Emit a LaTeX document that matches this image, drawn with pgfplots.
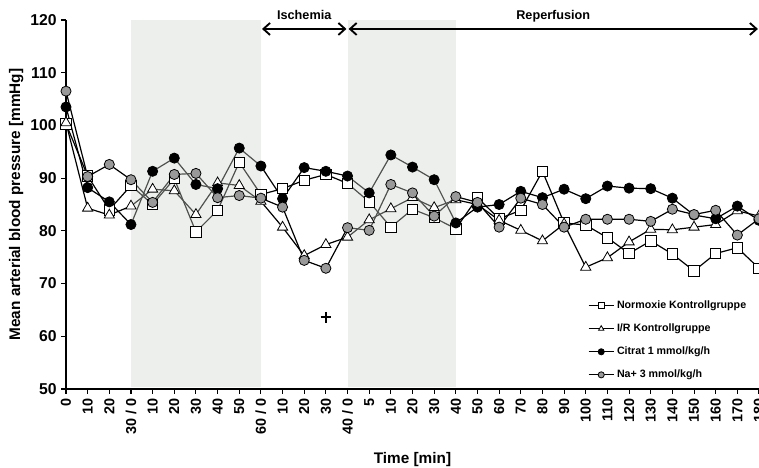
\documentclass[border=0pt]{standalone}
\usepackage{fontspec}
\setmainfont{Liberation Sans}
\usepackage{pgfplots}
\usepackage{pgfplotstable}
\pgfplotsset{compat=1.18}
\usetikzlibrary{arrows.meta}

% index: 0..32 along the time axis (see xticklabels)
\pgfplotstableread{
x  norm  ir    cit   na
0  100.3 100.5 103.5 106.5
1  90.4  84.3  88.2  90.3
2  84.0  83.0  85.5  92.6
3  88.6  84.7  81.2  89.7
4  85.0  87.9  91.3  85.4
5  89.9  87.6  93.8  90.7
6  79.8  83.1  88.8  90.9
7  83.9  89.1  88.0  86.3
8  93.0  88.6  95.7  86.7
9  86.9  85.6  92.3  86.2
10 88.0  80.7  86.1  84.5
11 89.6  75.3  92.0  74.4
12 90.7  77.4  91.3  72.9
13 89.0  78.8  90.4  80.6
14 85.5  82.1  87.2  80.1
15 80.7  84.2  94.4  88.8
16 84.1  86.3  92.1  87.2
17 82.5  84.4  89.7  82.8
18 80.4  85.9  81.5  86.5
19 86.3  85.0  84.5  85.4
20 82.3  82.0  85.0  80.7
21 83.9  80.1  87.5  86.2
22 91.3  78.1  86.3  85.0
23 81.5  81.3  87.9  80.7
24 81.1  73.1  86.1  82.2
25 78.7  74.9  88.5  82.2
26 75.7  77.9  88.1  82.2
27 78.1  80.3  88.0  81.8
28 75.6  80.2  86.2  84.1
29 72.4  80.7  83.0  83.1
30 75.7  81.2  82.3  83.9
31 76.8  83.8  84.7  79.2
32 72.9  82.8  82.0  82.3
}\mapdata

\definecolor{phasecol}{rgb}{0.82,0.84,0.82}
\definecolor{nagray}{gray}{0.6}

\begin{document}
\begin{tikzpicture}
\begin{axis}[name=ax,
  width=519.75pt, height=276.75pt, scale only axis,
  xmin=0, xmax=32, ymin=50, ymax=120,
  ytick={50,60,...,120},
  xtick={0,...,32},
  xticklabels={0,10,20,30 / 0,10,20,30,40,50,60 / 0,10,20,30,40 / 0,5,10,20,30,40,50,60,70,80,90,100,110,120,130,140,150,160,170,180},
  axis x line*=bottom, axis y line*=left,
  x axis line style={line width=2.2pt},
  y axis line style={line width=1pt},
  tick align=outside, major tick length=3.5pt,
  tick style={black, line width=0.8pt},
  /pgf/number format/assume math mode=true,
  x tick label style={rotate=90, anchor=east, font=\fontsize{10.8}{11}\selectfont\bfseries},
  y tick label style={font=\fontsize{11.8}{12}\selectfont\bfseries},
  xlabel={Time [min]}, ylabel={Mean arterial blood pressure [mmHg]},
  label style={font=\fontsize{11.5}{12}\selectfont\bfseries},
  xlabel style={at={(axis description cs:0.5,-0.192)}, anchor=center},
  ylabel style={at={(axis description cs:-0.072,0.5)}, anchor=center},
  clip=false, axis on top,
  legend style={at={(0.753,0.247)}, anchor=north west, draw=none, fill=none,
    font=\fontsize{8}{9}\selectfont\bfseries, row sep=6pt, inner sep=0pt},
  legend cell align=left,
  legend image code/.code={\draw[mark repeat=2,mark phase=2,mark size=2.3pt] plot coordinates {(0cm,0cm) (0.33cm,0cm) (0.66cm,0cm)};},
]
\addplot[black, line width=0.9pt, mark=square*, mark size=3.9pt, mark options={fill=white, line width=0.6pt}] table[x=x,y=norm]{\mapdata};
\addlegendentry{Normoxie Kontrollgruppe}
\addplot[black, line width=0.9pt, mark=triangle*, mark size=4.4pt, mark options={fill=white, line width=0.6pt}] table[x=x,y=ir]{\mapdata};
\addlegendentry{I/R Kontrollgruppe}
\addplot[black, line width=0.9pt, mark=*, mark size=3.8pt, mark options={fill=black, line width=0.6pt}] table[x=x,y=cit]{\mapdata};
\addlegendentry{Citrat 1 mmol/kg/h}
\addplot[black, line width=0.9pt, mark=*, mark size=3.8pt, mark options={fill=nagray, line width=0.6pt}] table[x=x,y=na]{\mapdata};
\addlegendentry{Na+ 3 mmol/kg/h}
\addplot[only marks, mark=+, mark size=4pt, line width=1.4pt, forget plot] coordinates {(12,63.6)};

\fill[phasecol, opacity=0.38] (axis cs:3,50.3) rectangle (axis cs:9,120);
\fill[phasecol, opacity=0.38] (axis cs:13,50.3) rectangle (axis cs:18,120);

\draw[{Straight Barb[length=5pt,width=9pt]}-{Straight Barb[length=5pt,width=9pt]}, line width=1.4pt]
  (axis cs:9.05,118.3) -- (axis cs:12.95,118.3);
\draw[{Straight Barb[length=5pt,width=9pt]}-{Straight Barb[length=5pt,width=9pt]}, line width=1.4pt]
  (axis cs:13.05,118.3) -- (axis cs:31.95,118.3);
\node[anchor=base, font=\fontsize{9.5}{10}\selectfont\bfseries] at (axis cs:11,120.1) {Ischemia};
\node[anchor=base, font=\fontsize{9.5}{10}\selectfont\bfseries] at (axis cs:22.5,120.1) {Reperfusion};
\end{axis}
\pgfresetboundingbox
\path[use as bounding box] ([xshift=-49.5pt,yshift=-58.5pt]ax.south west) rectangle ([yshift=15pt]ax.north east);
\end{tikzpicture}
\end{document}
